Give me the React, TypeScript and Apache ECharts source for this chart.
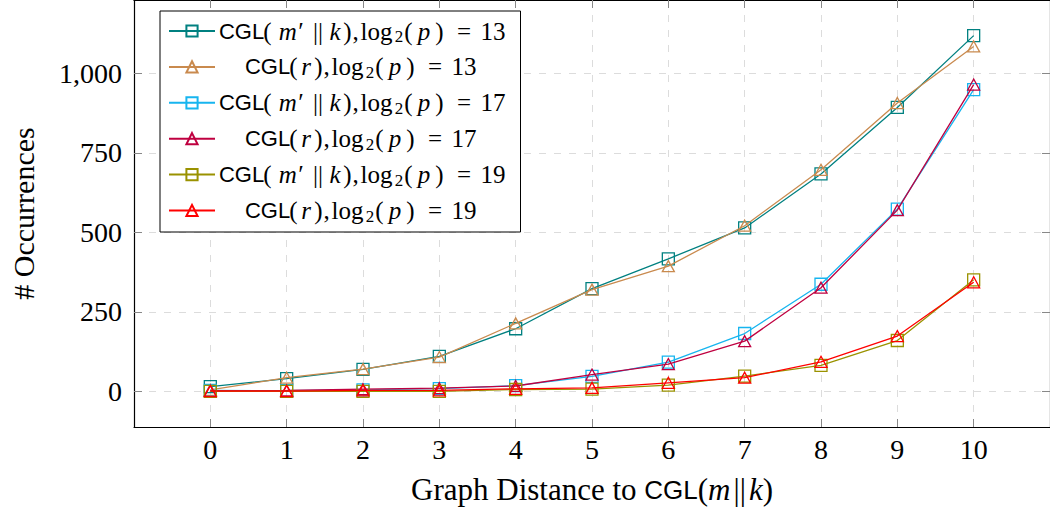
import React, { useEffect, useRef } from 'react';
import * as echarts from 'echarts';

const xValues = [0, 1, 2, 3, 4, 5, 6, 7, 8, 9, 10];
const xTicks = [0, 1, 2, 3, 4, 5, 6, 7, 8, 9, 10];
const yTicks = [0, 250, 500, 750, 1000];

const mk13 = [15, 40, 69, 110, 197, 323, 417, 514, 684, 893, 1119];
const r13 = [5, 43, 70, 108, 214, 320, 394, 521, 697, 907, 1085];
const mk17 = [3, 2, 5, 9, 18, 47, 92, 182, 337, 573, 949];
const r17 = [2, 3, 7, 10, 17, 53, 86, 158, 326, 570, 965];
const mk19 = [0, 0, 0, 0, 6, 7, 20, 48, 82, 160, 351];
const r19 = [1, 1, 3, 3, 8, 11, 27, 43, 93, 174, 343];

const seriesKinds = ['mk', 'r', 'mk', 'r', 'mk', 'r'];
const seriesP = [13, 13, 17, 17, 19, 19];
const seriesValues = [mk13, r13, mk17, r17, mk19, r19];
const seriesColors = ['#008080', '#c98a4e', '#17b5ef', '#bf0040', '#9a9200', '#ff0000'];

const SERIF = "'Liberation Serif', 'DejaVu Serif', serif";
const SANS = "'Liberation Sans', 'DejaVu Sans', sans-serif";

function seriesName(kind: string, p: number) {
  return kind === 'mk' ? `CGL(m′||k), log2(p) = ${p}` : `CGL(r), log2(p) = ${p}`;
}

function richLabel(kind: string, p: number) {
  const tail = `{cm|,}{lg|log}{sub|2}{lp|(}{p|p}{rp|)}{eq|=}{num|${p}}`;
  if (kind === 'mk') return `{s|CGL}{lp|(}{m|m′}{bar|||}{k|k}{rp|)}` + tail;
  return `{pad| }{s|CGL}{lp|(}{rr|r}{rp|)}` + tail;
}

export default function App() {
  const ref = useRef<HTMLDivElement>(null);
  useEffect(() => {
    const chart = echarts.init(ref.current!, null, { renderer: 'svg' });
    const labelMap: Record<string, string> = {};
    const series = seriesValues.map((vals, i) => {
      const name = seriesName(seriesKinds[i], seriesP[i]);
      labelMap[name] = richLabel(seriesKinds[i], seriesP[i]);
      const c = seriesColors[i];
      return {
        type: 'line',
        name,
        data: xValues.map((x, j) => [x, vals[j]]),
        symbol: seriesKinds[i] === 'mk' ? 'rect' : 'triangle',
        symbolSize: seriesKinds[i] === 'mk' ? 12 : [12, 11],
        showSymbol: true,
        lineStyle: { color: c, width: 1.3 },
        itemStyle: { color: 'rgba(255,255,255,0)', borderColor: c, borderWidth: 1.3 },
        emphasis: { disabled: true },
        z: 3 + i,
      };
    });
    const LH = 28;
    const up = (w: number, extra: any = {}) => ({
      fontFamily: SERIF, fontSize: 25, lineHeight: LH, color: '#000', align: 'center', width: w, ...extra,
    });
    const it = (w: number) => up(w, { fontStyle: 'italic' });
    const rich = {
      s: { fontFamily: SANS, fontSize: 22, lineHeight: LH, color: '#000', align: 'center', width: 43 },
      lp: up(9),
      rp: up(9),
      m: it(37),
      bar: up(18),
      k: it(16),
      rr: it(16),
      cm: up(7),
      lg: up(35),
      sub: { fontFamily: SERIF, fontSize: 17, lineHeight: 12, verticalAlign: 'bottom', color: '#000', align: 'center', width: 10 },
      p: it(22),
      eq: up(40),
      num: up(18),
      pad: { width: 26, fontSize: 10, lineHeight: LH, align: 'center' },
    };
    const axisRich = {
      s: { fontFamily: SANS, fontSize: 26, color: '#000' },
      r: { fontFamily: SERIF, fontSize: 31, color: '#000' },
      i: { fontFamily: SERIF, fontStyle: 'italic', fontSize: 31, color: '#000' },
      b: { fontFamily: SERIF, fontSize: 31, color: '#000', padding: [0, 3, 0, 3] },
    };
    const tickStyle = { show: true, inside: true, length: 8, lineStyle: { color: '#888', width: 1 } };
    const splitStyle = { show: true, lineStyle: { color: '#dcdcdc', type: [7, 8], width: 1 } };
    const axisLineStyle = { show: true, onZero: false, lineStyle: { color: '#000', width: 1.2 } };
    const yMin = -112;
    const yMax = 1231;
    chart.setOption({
      animation: false,
      backgroundColor: '#fff',
      grid: { left: 132, right: -4, top: -2, bottom: 83, containLabel: false },
      legend: {
        left: 160,
        top: 11,
        orient: 'vertical',
        itemWidth: 46,
        itemHeight: 14,
        itemGap: 9.4,
        padding: [7.5, 15, 7.5, 8],
        backgroundColor: '#fff',
        borderColor: '#000',
        borderWidth: 1,
        borderRadius: 0,
        selectedMode: false,
        formatter: (name: string) => labelMap[name] || name,
        textStyle: { rich },
      },
      xAxis: [
        {
          type: 'value',
          min: -1,
          max: 11,
          position: 'bottom',
          axisLine: axisLineStyle,
          axisTick: { ...tickStyle, customValues: xTicks },
          axisLabel: { customValues: xTicks, fontFamily: SERIF, fontSize: 28, color: '#000', margin: 8 },
          splitLine: splitStyle,
          name: '{r|Graph Distance to }{s|CGL}{r|(}{i|m}{b|||}{i|k}{r|)}',
          nameLocation: 'middle',
          nameGap: 47,
          nameTextStyle: { rich: axisRich },
        },
        {
          type: 'value',
          min: -1,
          max: 11,
          position: 'top',
          axisLine: axisLineStyle,
          axisTick: { ...tickStyle, customValues: xTicks },
          axisLabel: { show: false },
          splitLine: { show: false },
        },
      ],
      yAxis: [
        {
          type: 'value',
          min: yMin,
          max: yMax,
          position: 'left',
          axisLine: axisLineStyle,
          axisTick: { ...tickStyle, customValues: yTicks },
          axisLabel: {
            customValues: yTicks,
            fontFamily: SERIF,
            fontSize: 28,
            color: '#000',
            margin: 12,
            formatter: (v: number) => (v >= 1000 ? `${Math.floor(v / 1000)},${String(v % 1000).padStart(3, '0')}` : String(v)),
          },
          splitLine: splitStyle,
          name: '# Occurrences',
          nameLocation: 'middle',
          nameGap: 96,
          nameTextStyle: { fontFamily: SERIF, fontSize: 30, color: '#000' },
        },
        {
          type: 'value',
          min: yMin,
          max: yMax,
          position: 'right',
          axisLine: axisLineStyle,
          axisTick: { ...tickStyle, customValues: yTicks },
          axisLabel: { show: false },
          splitLine: { show: false },
        },
      ],
      series,
    });
    return () => chart.dispose();
  }, []);
  return <div ref={ref} style={{ position: 'absolute', left: 0, top: 0, width: 1050, height: 510 }} />;
}
